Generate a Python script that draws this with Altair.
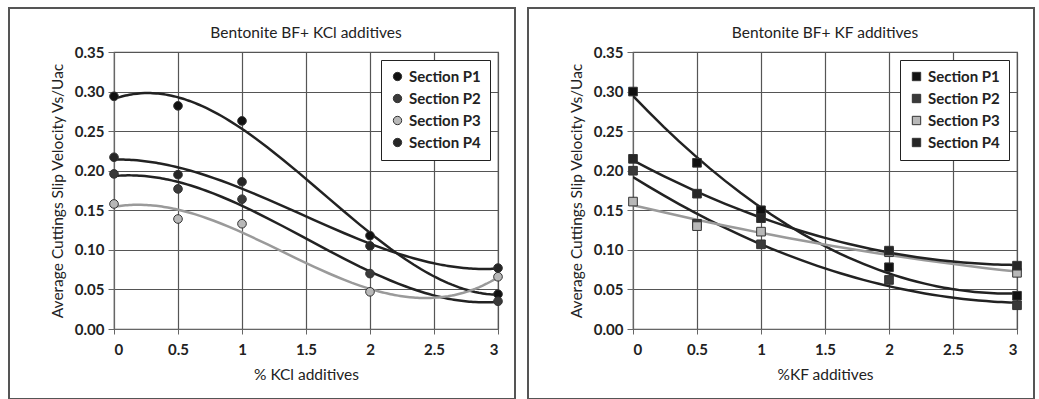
import altair as alt
import pandas as pd

x_vals = [0, 0.5, 1, 2, 3]
series_names = ["Section P1", "Section P2", "Section P3", "Section P4"]

kcl_p1 = [0.294, 0.282, 0.263, 0.118, 0.044]
kcl_p2 = [0.196, 0.177, 0.164, 0.070, 0.035]
kcl_p3 = [0.158, 0.139, 0.133, 0.047, 0.066]
kcl_p4 = [0.217, 0.195, 0.186, 0.105, 0.077]

kf_p1 = [0.300, 0.210, 0.150, 0.078, 0.042]
kf_p2 = [0.200, 0.133, 0.107, 0.062, 0.030]
kf_p3 = [0.161, 0.130, 0.123, 0.097, 0.071]
kf_p4 = [0.215, 0.171, 0.140, 0.099, 0.080]

x_ticks = [0, 0.5, 1, 1.5, 2, 2.5, 3]
y_ticks = [0, 0.05, 0.10, 0.15, 0.20, 0.25, 0.30, 0.35]

point_fill = ["#111111", "#3a3a3a", "#b8b8b8", "#262626"]

FONT = "Lato"


def long_df(series_lists):
    rows = []
    for name, vals in zip(series_names, series_lists):
        for xv, yv in zip(x_vals, vals):
            rows.append({"x": xv, "y": yv, "series": name})
    return pd.DataFrame(rows)


def panel(df, title, xtitle, shape, order):
    xenc = alt.X("x:Q", scale=alt.Scale(domain=[0, 3], nice=False),
                 axis=alt.Axis(values=x_ticks, format="~g", title=xtitle,
                               grid=True, gridColor="#555555", gridWidth=1.2,
                               labelFont=FONT, labelFontSize=15, labelFontWeight="bold",
                               labelColor="#222", labelPadding=8,
                               titleFont=FONT, titleFontSize=15.5, titleFontWeight="normal",
                               titleColor="#222", titlePadding=10,
                               domainColor="#666", tickColor="#666", tickSize=5))
    yenc = alt.Y("y:Q", scale=alt.Scale(domain=[0, 0.35], nice=False),
                 axis=alt.Axis(values=y_ticks, format=".2f",
                               title="Average Cuttings Slip Velocity Vs/Uac",
                               grid=True, gridColor="#555555", gridWidth=1.2,
                               labelFont=FONT, labelFontSize=15, labelFontWeight="bold",
                               labelColor="#222", labelPadding=4,
                               titleFont=FONT, titleFontSize=15.5, titleFontWeight="normal",
                               titleColor="#222", titlePadding=9,
                               domainColor="#666", tickColor="#666", tickSize=6))
    lines = alt.Chart(df).transform_regression(
        "x", "y", method="poly", order=order, groupby=["series"]
    ).mark_line(strokeWidth=2.5, clip=True).encode(
        x=xenc, y=yenc,
        detail="series:N",
        stroke=alt.condition("datum.series == 'Section P3'",
                             alt.value("#9a9a9a"), alt.value("#222222")),
    )
    pts = alt.Chart(df).mark_point(shape=shape, filled=True, size=75, stroke="#333",
                                   strokeWidth=1, opacity=1).encode(
        x=xenc, y=yenc,
        fill=alt.Fill("series:N", scale=alt.Scale(domain=series_names, range=point_fill),
                      legend=alt.Legend(title=None, orient="top-right", offset=8,
                                        symbolType=shape, symbolSize=70, symbolOpacity=1,
                                        symbolStrokeColor="#333", symbolStrokeWidth=1,
                                        labelFont=FONT, labelFontSize=15, labelFontWeight="bold",
                                        labelColor="#222", rowPadding=6,
                                        strokeColor="#222", fillColor="white",
                                        padding=9)),
    )
    frame = alt.Chart(alt.Data(values=[{"a": 1}])).mark_rect(
        fill="transparent", stroke="#555", strokeWidth=2, clip=False
    ).encode(x=alt.value(-105), x2=alt.value(401), y=alt.value(-44), y2=alt.value(347))
    return alt.layer(lines, pts, frame).properties(
        width=384, height=277,
        title=alt.TitleParams(title, font=FONT, fontSize=15.5, fontWeight="normal",
                              color="#222", offset=-34, anchor="middle"),
    )


left = panel(long_df([kcl_p1, kcl_p2, kcl_p3, kcl_p4]), "Bentonite BF+ KCl additives",
             "% KCl additives", "circle", 3)
right = panel(long_df([kf_p1, kf_p2, kf_p3, kf_p4]), "Bentonite BF+ KF additives",
              "%KF additives", "square", 2)

chart = alt.hconcat(left, right, spacing=9).resolve_scale(fill="independent").configure(
    padding={"left": 7, "top": 6, "right": 0, "bottom": 0},
    background="white",
).configure_view(stroke="#555", strokeWidth=1.2)

chart.save("out.html", embed_options={"renderer": "svg", "actions": False})
